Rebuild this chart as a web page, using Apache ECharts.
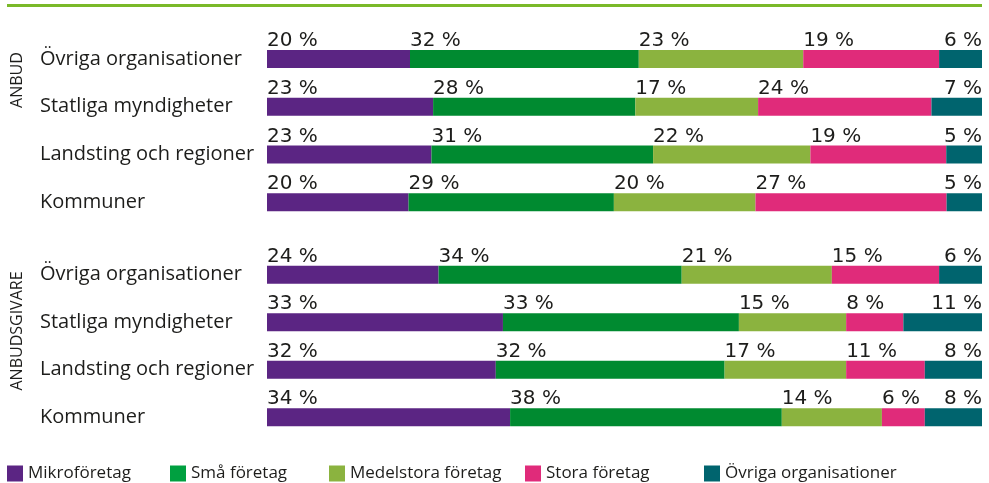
<!DOCTYPE html>
<html>
<head>
<meta charset="utf-8">
<script src="https://cdn.jsdelivr.net/npm/echarts@6/dist/echarts.min.js"></script>
<style>
  html, body { margin: 0; padding: 0; background: #fff; }
  #chart { width: 989px; height: 483px; }
</style>
</head>
<body>
<div id="chart"></div>
<script>
// kategorier, uppifrån och ned
var categories = ["Övriga organisationer", "Statliga myndigheter", "Landsting och regioner", "Kommuner"];
var groupNames = ["ANBUD", "ANBUDSGIVARE"];
var seriesNames = ["Mikroföretag", "Små företag", "Medelstora företag", "Stora företag", "Övriga organisationer"];

// ANBUD, andel i procent
var anbudMikro = [20, 23, 23, 20];
var anbudSma = [32, 28, 31, 29];
var anbudMedel = [23, 17, 22, 20];
var anbudStora = [19, 24, 19, 27];
var anbudOvriga = [6, 7, 5, 5];

// ANBUDSGIVARE, andel i procent
var givareMikro = [24, 33, 32, 34];
var givareSma = [34, 33, 32, 38];
var givareMedel = [21, 15, 17, 14];
var givareStora = [15, 8, 11, 6];
var givareOvriga = [6, 11, 8, 8];

var colors = ["#5b2583", "#008a30", "#8bb33f", "#e02b7a", "#00646e"];
var legendColors = ["#5b2583", "#00a040", "#8bb33f", "#e02b7a", "#00646e"];
var textColor = "#1d1d1b";
var font = "Open Sans";
var valueFont = "DejaVu Sans";

var groupData = [
  [anbudMikro, anbudSma, anbudMedel, anbudStora, anbudOvriga],
  [givareMikro, givareSma, givareMedel, givareStora, givareOvriga]
];

// radsumma, så att varje stapel fyller hela bredden
function rowSums(sets) {
  return categories.map(function (c, i) {
    var s = 0;
    sets.forEach(function (arr) { s += arr[i]; });
    return s;
  });
}

var grids = [
  { left: 267, right: 7, top: 35, height: 191 },
  { left: 267, right: 7, top: 251, height: 190 }
];

var xAxes = [], yAxes = [], series = [];
groupData.forEach(function (sets, g) {
  var sums = rowSums(sets);
  xAxes.push({ gridIndex: g, type: "value", min: 0, max: 100, show: false });
  yAxes.push({
    gridIndex: g,
    type: "category",
    data: categories,
    inverse: true,
    axisLine: { show: false },
    axisTick: { show: false },
    axisLabel: { align: "left", margin: 227, fontSize: 20, color: textColor, fontFamily: font }
  });
  sets.forEach(function (arr, k) {
    var last = k === sets.length - 1;
    series.push({
      name: seriesNames[k],
      type: "bar",
      stack: "g" + g,
      xAxisIndex: g,
      yAxisIndex: g,
      barWidth: 18,
      itemStyle: { color: colors[k] },
      label: {
        show: true,
        position: last ? ["100%", 1] : [0, 1],
        align: last ? "right" : "left",
        verticalAlign: "bottom",
        fontSize: 20,
        fontFamily: valueFont,
        color: textColor,
        formatter: function (p) { return arr[p.dataIndex] + " %"; }
      },
      data: arr.map(function (v, i) { return v / sums[i] * 100; })
    });
  });
});

var legendLeft = [7, 170, 329, 525, 704];
var legends = seriesNames.map(function (n, k) {
  return {
    data: [{ name: n, itemStyle: { color: legendColors[k] } }],
    left: legendLeft[k],
    top: 465,
    padding: 0,
    icon: "rect",
    itemWidth: 16,
    itemHeight: 16,
    textStyle: { fontSize: 17, color: textColor, fontFamily: font },
    selectedMode: false
  };
});

var chart = echarts.init(document.getElementById("chart"));
chart.setOption({
  animation: false,
  grid: grids,
  xAxis: xAxes,
  yAxis: yAxes,
  legend: legends,
  series: series,
  graphic: [
    { type: "rect", shape: { x: 7, y: 4, width: 975, height: 3 }, style: { fill: "#7ab929" } },
    {
      type: "text", x: 17, y: 80, rotation: Math.PI / 2,
      style: { text: groupNames[0], fontSize: 16, fontFamily: font, fill: textColor, align: "center", verticalAlign: "middle" }
    },
    {
      type: "text", x: 17, y: 331, rotation: Math.PI / 2,
      style: { text: groupNames[1], fontSize: 16, fontFamily: font, fill: textColor, align: "center", verticalAlign: "middle" }
    }
  ]
});
window.addEventListener("resize", function () { chart.resize(); });
</script>
</body>
</html>
